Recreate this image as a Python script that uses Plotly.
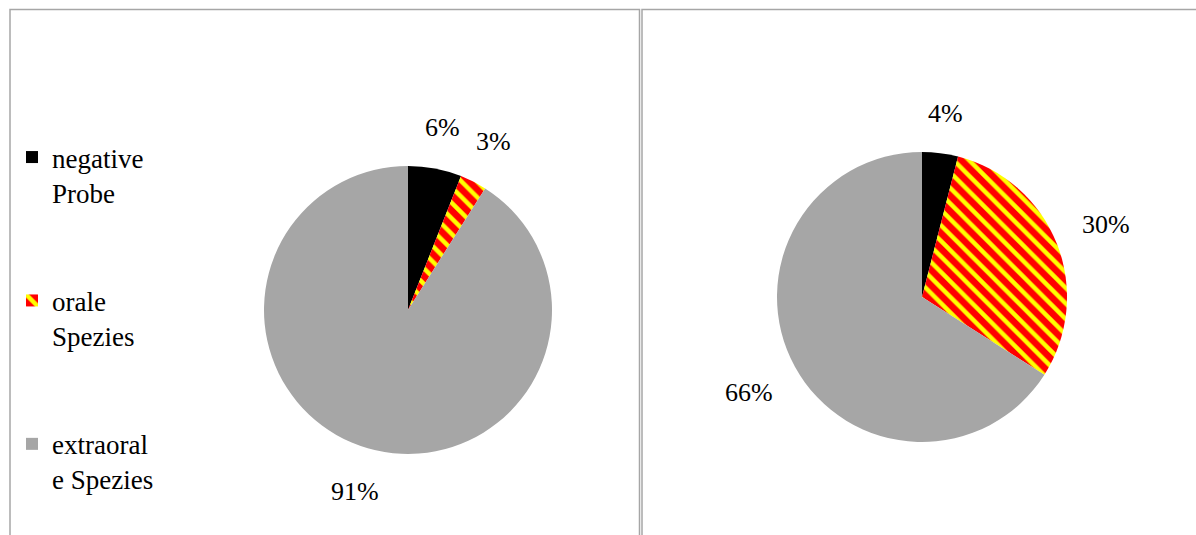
import math
import plotly.graph_objects as go

# ---- data ----
labels = ["negative<br>Probe<br><br>", "orale<br>Spezies<br><br>", "extraoral<br>e Spezies"]
values_left = [6, 3, 91]
values_right = [4, 30, 66]
colors = ["#000000", "#ff0000", "#a6a6a6"]
patterns = ["", "\\", ""]

W, H = 1196, 535
FONT = "Liberation Serif, Times New Roman, serif"

# pie geometry in pixels (layout)
pies = [
    dict(values=values_left, cx=408, cy=310, r=144),
    dict(values=values_right, cx=922, cy=297, r=145),
]

fig = go.Figure()
annotations = []
for i, p in enumerate(pies):
    cx, cy, r = p["cx"], p["cy"], p["r"]
    fig.add_trace(go.Pie(
        labels=labels,
        values=p["values"],
        sort=False,
        direction="clockwise",
        rotation=0,
        textinfo="none",
        hoverinfo="label+percent",
        marker=dict(
            colors=colors,
            line=dict(width=0),
            pattern=dict(shape=patterns, fgcolor="#ffff00", bgcolor="#ff0000",
                         size=11, solidity=0.4),
        ),
        domain=dict(x=[(cx - r) / W, (cx + r) / W],
                    y=[1 - (cy + r) / H, 1 - (cy - r) / H]),
        showlegend=(i == 0),
    ))
    # percentage labels placed outside each slice at its mid angle
    total = sum(p["values"])
    cum = 0
    for v in p["values"]:
        mid = (cum + v / 2) / total * 2 * math.pi
        cum += v
        txt = f"{round(v / total * 100)}%"
        fs = 26
        w = (len(txt) - 1) * 0.5 * fs + 0.833 * fs
        h = fs * 0.95
        ext = abs(w / 2 * math.sin(mid)) + abs(h / 2 * math.cos(mid))
        d = r + 26 + ext
        px = cx + d * math.sin(mid)
        py = cy - d * math.cos(mid)
        annotations.append(dict(
            x=px / W, y=1 - py / H, xref="paper", yref="paper",
            text=txt, showarrow=False, xanchor="center", yanchor="middle",
            font=dict(family=FONT, size=fs, color="#000000"),
        ))

shapes = [
    dict(type="rect", xref="paper", yref="paper",
         x0=10 / W, x1=639.5 / W, y0=-0.05, y1=1 - 9.5 / H,
         line=dict(color="#a6a6a6", width=1.5), fillcolor="rgba(0,0,0,0)", layer="below"),
    dict(type="rect", xref="paper", yref="paper",
         x0=642 / W, x1=1.05, y0=-0.05, y1=1 - 9.5 / H,
         line=dict(color="#a6a6a6", width=1.5), fillcolor="rgba(0,0,0,0)", layer="below"),
]

fig.update_layout(
    width=W, height=H,
    margin=dict(l=0, r=0, t=0, b=0),
    paper_bgcolor="#ffffff",
    plot_bgcolor="#ffffff",
    font=dict(family=FONT, size=26, color="#000000"),
    legend=dict(
        x=12 / W, y=1 - 133 / H, xanchor="left", yanchor="top",
        font=dict(family=FONT, size=27, color="#000000"),
        valign="top", bgcolor="rgba(0,0,0,0)", borderwidth=0,
        traceorder="normal",
    ),
    annotations=annotations,
    shapes=shapes,
)

fig.write_html("out.html")
